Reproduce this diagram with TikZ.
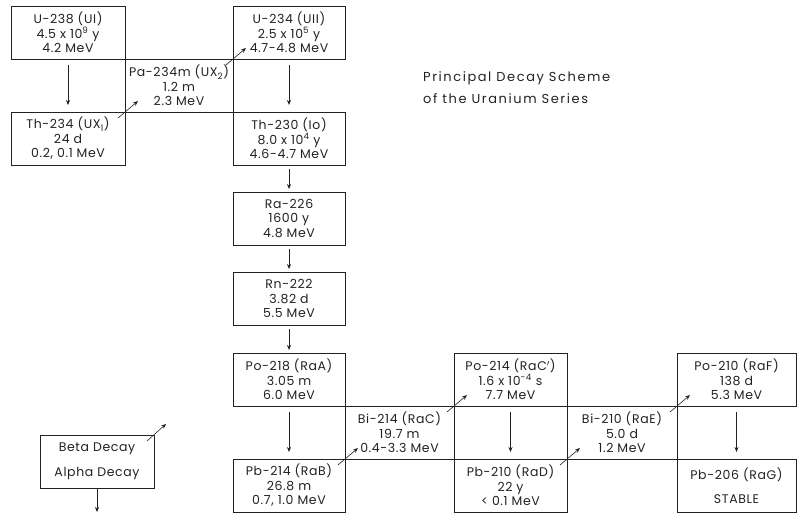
\documentclass[tikz,border=0pt]{standalone}
\usepackage{fontspec}
\setmainfont{Poppins}[LetterSpace=5]
\usetikzlibrary{arrows.meta,positioning}
\definecolor{ink}{HTML}{222222}

\begin{document}
\begin{tikzpicture}[x=1pt,y=1pt,font=\fontsize{12.5}{14.5}\selectfont,text=ink,
  node distance=0pt,
  iso/.style={draw=ink,line width=0.6pt,minimum width=112pt,minimum height=53pt,
              align=center,inner sep=1pt,outer sep=0pt},
  al/.style={-{Stealth[length=5pt,width=4pt]},draw=ink,line width=0.6pt,
             shorten <=6pt,shorten >=7pt},
  be/.style={-{Stealth[length=5pt,width=4pt]},draw=ink,line width=0.6pt}]
\useasboundingbox (0,0) rectangle (798,-513);
\node[iso,minimum width=114pt,anchor=north west] (u238) at (11,-6)
  {U-238 (UI)\\4.5 x 10\textsuperscript{9} y\\4.2 MeV};
\node[iso,minimum width=108pt,below right=of u238] (pa234)
  {Pa-234m (UX\textsubscript{2})\\1.2 m\\2.3 MeV};
\node[iso,minimum width=114pt,below left=of pa234] (th234)
  {Th-234 (UX\textsubscript{1})\\24 d\\0.2, 0.1 MeV};
\node[iso,above right=of pa234] (u234)
  {U-234 (UII)\\2.5 x 10\textsuperscript{5} y\\4.7-4.8 MeV};
\node[iso,below right=of pa234] (th230)
  {Th-230 (Io)\\8.0 x 10\textsuperscript{4} y\\4.6-4.7 MeV};
\node[iso,below=27pt of th230] (ra226) {Ra-226\\1600 y\\4.8 MeV};
\node[iso,below=27pt of ra226] (rn222) {Rn-222\\3.82 d\\5.5 MeV};
\node[iso,below=28pt of rn222] (po218) {Po-218 (RaA)\\3.05 m\\6.0 MeV};
\node[iso,minimum width=109pt,below right=of po218] (bi214)
  {Bi-214 (RaC)\\19.7 m\\0.4-3.3 MeV};
\node[iso,below left=of bi214] (pb214) {Pb-214 (RaB)\\26.8 m\\0.7, 1.0 MeV};
\node[iso,minimum width=113pt,above right=of bi214] (po214)
  {Po-214 (RaC$'$)\\1.6 x 10\textsuperscript{-4} s\\7.7 MeV};
\node[iso,minimum width=113pt,below right=of bi214] (pb210)
  {Pb-210 (RaD)\\22 y\\< 0.1 MeV};
\node[iso,minimum width=110pt,below right=of po214] (bi210)
  {Bi-210 (RaE)\\5.0 d\\1.2 MeV};
\node[iso,minimum width=119pt,above right=of bi210] (po210)
  {Po-210 (RaF)\\138 d\\5.3 MeV};
\node[iso,minimum width=119pt,below right=of bi210] (pb206)
  {Pb-206 (RaG)\\[9pt]STABLE};
% alpha
\foreach \a/\b in {u238/th234,u234/th230,po218/pb214,po214/pb210,po210/pb206}
  \draw[al] (\a) -- (\b);
\foreach \a/\b in {th230/ra226,ra226/rn222,rn222/po218}
  \draw[al,shorten <=4pt,shorten >=3pt] (\a) -- (\b);
% beta
\foreach \a/\b in {th234/pa234,pa234/u234,pb214/bi214,bi214/po214,pb210/bi210,bi210/po210}
  \draw[be] ([shift={(-7pt,-6pt)}]\a.north east) -- ([shift={(13pt,11pt)}]\b.south west);
% legend
\node[iso,minimum width=114pt,anchor=north west] (key) at (40,-435)
  {Beta Decay\\[10pt]Alpha Decay};
\coordinate (kb) at ([shift={(12pt,11pt)}]key.north east);
\coordinate (ka) at ([yshift=-24pt]key.south);
\draw[be] ([shift={(-7pt,-6pt)}]key.north east) -- (kb);
\draw[al,shorten <=1pt,shorten >=0pt] (key.south) -- (ka);
\node[anchor=north west,align=left,inner sep=0pt,
      font=\fontsize{13}{22}\addfontfeature{LetterSpace=12}\selectfont] (title)
  at (423,-71) {Principal Decay Scheme\\of the Uranium Series};
\end{tikzpicture}
\end{document}
